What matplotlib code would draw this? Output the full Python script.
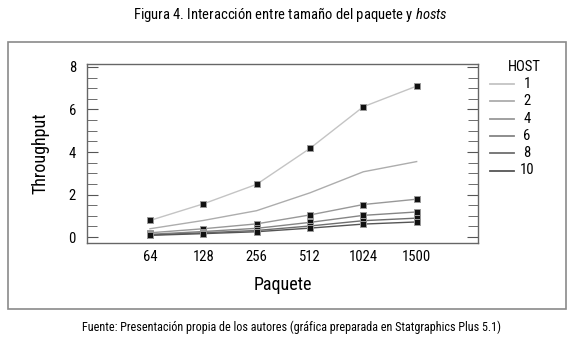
import matplotlib.pyplot as plt
from matplotlib import font_manager
from matplotlib.lines import Line2D
from matplotlib.patches import Rectangle
import numpy as np

installed = {f.name for f in font_manager.fontManager.ttflist}
font = next((f for f in ["Roboto Condensed", "Archivo Narrow", "Barlow Semi Condensed"]
             if f in installed), "DejaVu Sans")
plt.rcParams['font.family'] = [font, 'DejaVu Sans']
plt.rcParams['mathtext.fontset'] = 'custom'
plt.rcParams['mathtext.it'] = font + ':italic'
plt.rcParams['mathtext.rm'] = font

paquetes = ["64", "128", "256", "512", "1024", "1500"]
hosts = ["1", "2", "4", "6", "8", "10"]
throughput = {
    "1": [0.78, 1.56, 2.48, 4.17, 6.13, 7.10],
    "2": [0.39, 0.78, 1.24, 2.08, 3.07, 3.55],
    "4": [0.20, 0.39, 0.62, 1.04, 1.53, 1.78],
    "6": [0.13, 0.26, 0.41, 0.69, 1.02, 1.18],
    "8": [0.10, 0.20, 0.31, 0.52, 0.77, 0.89],
    "10": [0.08, 0.16, 0.25, 0.42, 0.61, 0.71],
}
colors = ["#c4c4c4", "#adadad", "#989898", "#858585", "#6e6e6e", "#555555"]
with_markers = {"1", "4", "6", "8", "10"}

fig = plt.figure(figsize=(5.8, 3.38), dpi=100)
ax = fig.add_axes([87 / 580, 1 - 243 / 338, 391 / 580, 179 / 338])

# outer frame
fig.patches.append(Rectangle((8 / 580, 1 - 309 / 338), 558 / 580, 267 / 338,
                             transform=fig.transFigure, fill=False,
                             edgecolor="#8a8a8a", linewidth=1.2))

x = np.arange(len(paquetes))
for h, c in zip(hosts, colors):
    ax.plot(x, throughput[h], color=c, linewidth=1.0, zorder=2)
    if h in with_markers:
        ax.plot(x, throughput[h], linestyle="none", marker="s", markersize=4.3,
                markerfacecolor="#111111", markeredgecolor="#999999",
                markeredgewidth=0.7, zorder=3)

ax.set_xlim(-1.18, 6.15)
ax.set_ylim(-0.28, 8.14)
ax.set_xticks(x, paquetes)
ax.tick_params(axis="x", length=0, pad=5, labelsize=10.5)
ax.set_yticks([0, 2, 4, 6, 8])
ax.set_yticks(np.arange(0, 8.01, 0.5), minor=True)
ax.tick_params(axis="y", which="both", direction="in", right=True,
               labelsize=10.5, pad=8, color="#555555")
ax.tick_params(axis="y", which="major", length=8)
ax.tick_params(axis="y", which="minor", length=7)
for s in ax.spines.values():
    s.set_color("#666666")
    s.set_linewidth(1.0)

ax.set_xlabel("Paquete", fontsize=13, labelpad=9)
ax.set_ylabel("Throughput", fontsize=13, labelpad=14)

# legend
fig.text(524 / 580, 1 - 67 / 338, "HOST", ha="center", va="center", fontsize=10.5)
for i, (h, c) in enumerate(zip(hosts, colors)):
    yy = 1 - (84 + 17.3 * i) / 338
    fig.lines.append(Line2D([490 / 580, 514 / 580], [yy, yy], color=c,
                            linewidth=1.3, transform=fig.transFigure))
    fig.text(527 / 580, yy, h, ha="center", va="center", fontsize=10.5)

title = fig.text(290 / 580, 1 - 14 / 338,
                 "Figura 4. Interacción entre tamaño del paquete y $hosts$",
                 ha="center", va="center", fontsize=10)
footer = fig.text(292 / 580, 1 - 327 / 338,
                  "Fuente: Presentación propia de los autores (gráfica preparada en Statgraphics Plus 5.1)",
                  ha="center", va="center", fontsize=10)

# fit title and footer widths to the reference
renderer = fig.canvas.get_renderer()
for t, target in [(title, 315), (footer, 416)]:
    w = t.get_window_extent(renderer).width
    t.set_fontsize(t.get_fontsize() * target / w)

fig.savefig("out.png", dpi=100)
